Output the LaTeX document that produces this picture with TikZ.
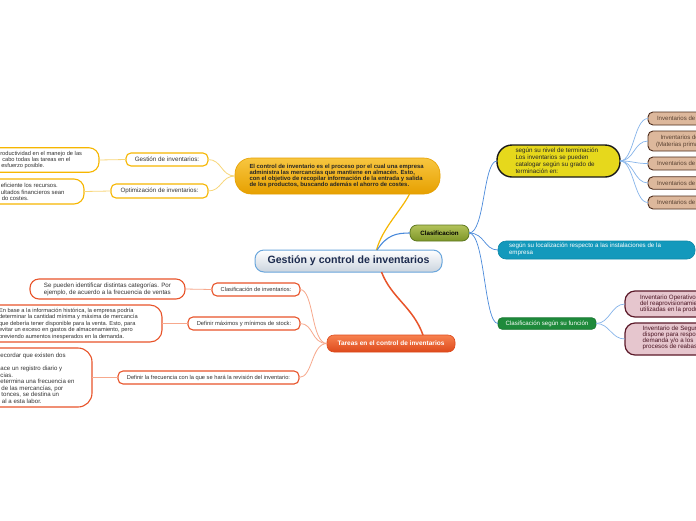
\documentclass[tikz,border=0pt]{standalone}
\usepackage{fontspec}
\setmainfont{Liberation Sans}
\definecolor{yelB}{HTML}{F6B600}
\definecolor{yelL}{HTML}{F8D77A}
\definecolor{yelTop}{HTML}{F8C640}
\definecolor{yelBot}{HTML}{E6A000}
\definecolor{oraB}{HTML}{E8542A}
\definecolor{oraL}{HTML}{F7A88C}
\definecolor{oraTop}{HTML}{F7814F}
\definecolor{oraBot}{HTML}{DE4A1C}
\definecolor{bluL}{HTML}{4A8ADB}
\definecolor{bluLL}{HTML}{86B4EA}
\definecolor{txtG}{HTML}{333333}
\definecolor{tanF}{HTML}{DDB89C}
\definecolor{tanB}{HTML}{4E2E1E}
\definecolor{tanT}{HTML}{5A4232}
\definecolor{pinkF}{HTML}{E6C6CE}
\definecolor{pinkB}{HTML}{5C1A2A}
\definecolor{pinkT}{HTML}{4A1422}
\definecolor{rootB}{HTML}{6AA6DC}
\definecolor{rootT}{HTML}{1C2B4E}
\definecolor{rootBot}{HTML}{CBD4DE}
\definecolor{olTop}{HTML}{B2C25A}
\definecolor{olBot}{HTML}{7E9628}
\definecolor{olB}{HTML}{5E7820}
\definecolor{nivF}{HTML}{E6D81C}
\definecolor{tealF}{HTML}{1399BC}
\definecolor{tealB}{HTML}{0F88A8}
\definecolor{grnF}{HTML}{1E8A3B}
\definecolor{grnB}{HTML}{17762F}
\begin{document}
\begin{tikzpicture}[x=1pt,y=-1pt,
  every node/.style={inner sep=0pt,outer sep=0pt},
  sm/.style={font=\fontsize{6.1}{6.4}\selectfont},
  lf/.style={font=\fontsize{5.7}{6.4}\selectfont},
  ltxt/.style={lf,text=txtG,align=left,anchor=west},
  ybox/.style={draw=yelB,line width=1.1pt,fill=white,text=txtG,sm},
  obox/.style={draw=oraB,line width=1.1pt,fill=white,text=txtG,sm},
  tanbox/.style={draw=tanB,line width=0.9pt,fill=tanF,rounded corners=5},
  pinkbox/.style={draw=pinkB,line width=1.2pt,fill=pinkF,rounded corners=10},
  ylink/.style={draw=yelL,line width=0.8pt},
  olink/.style={draw=oraL,line width=0.8pt},
  blink/.style={draw=bluL,line width=0.7pt},
  blinkl/.style={draw=bluLL,line width=0.7pt}]
\useasboundingbox (0,0) rectangle (696,520);
\fill[white] (0,0) rectangle (696,520);
\clip (0,0) rectangle (696,520);

% ---------- root ----------
\node[draw=rootB,line width=1pt,rounded corners=9,top color=white,bottom color=rootBot,
      minimum width=187,minimum height=22,text=rootT,font=\fontsize{10.6}{12}\selectfont\bfseries]
      (root) at (348.5,261) {Gestión y control de inventarios};

% ---------- yellow branch ----------
\node[rounded corners=16,top color=yelTop,bottom color=yelBot,draw=yelBot,line width=0.6pt,
      minimum width=205,minimum height=36] (ytop) at (337.5,176) {};
\node[anchor=west,align=left,font=\fontsize{5.9}{6}\selectfont\bfseries,text=black!85] (ytopT) at (249.5,175.8)
 {El control de inventario es el proceso por el cual una empresa\\
  administra las mercancías que mantiene en almacén. Esto,\\
  con el objetivo de recopilar información de la entrada y salida\\
  de los productos, buscando además el ahorro de costes.};

\node[ybox,rounded corners=5,minimum width=82,minimum height=13,font=\fontsize{6.3}{7}\selectfont] (g1) at (167,159.5) {Gestión de inventarios:};
\node[ybox,rounded corners=5,minimum width=97,minimum height=14,font=\fontsize{6.2}{7}\selectfont] (g2) at (159.5,191) {Optimización de inventarios:};
\node[ybox,rounded corners=10,minimum width=159,minimum height=24.5] (lg1) at (19.5,160) {};
\node[ltxt] (lg1t) at (0.3,160) {roductividad en el manejo de las\\\hspace{2pt}cabo todas las tareas en el\\\hspace{1pt}esfuerzo posible.};
\node[ybox,rounded corners=10,minimum width=144,minimum height=25] (lg2) at (12,191.5) {};
\node[ltxt,font=\fontsize{5.9}{6.5}\selectfont] (lg2t) at (0.8,192) {eficiente los recursos.\\ultados financieros sean\\\hspace{1pt}do costes.};

\draw[ylink] (ytop.west) .. controls +(-14,0) and +(14,0) .. (g1.east);
\draw[ylink] (ytop.west) .. controls +(-14,0) and +(14,0) .. (g2.east);
\draw[ylink] (g1.west) -- (lg1.east);
\draw[ylink] (g2.west) -- (lg2.east);

% ---------- classification branch ----------
\node[rounded corners=7,top color=olTop,bottom color=olBot,
      draw=olB,line width=0.8pt,minimum width=59,minimum height=16,
      font=\fontsize{6.2}{7}\selectfont\bfseries,text=black] (clasif) at (439.5,233) {Clasificacion};

\node[fill=nivF,draw=black!90,line width=1.4pt,rounded corners=15,
      minimum width=123,minimum height=32] (nivel) at (558.5,161) {};
\node[anchor=west,align=left,font=\fontsize{6.25}{7}\selectfont,text=black!85] (nivelT) at (515.5,160.5)
 {según su nivel de terminación\\Los inventarios se pueden\\catalogar según su grado de\\terminación en:};

\node[fill=tealF,draw=tealB,line width=0.6pt,rounded corners=8,
      minimum width=197,minimum height=18] (teal) at (596.5,250) {};
\node[anchor=west,align=left,font=\fontsize{6.2}{7}\selectfont,text=white] (tealT) at (509,249.5)
 {según su localización respecto a las instalaciones de la\\empresa};

\node[fill=grnF,draw=grnB,line width=0.6pt,rounded corners=4,
      minimum width=98,minimum height=11.5,font=\fontsize{6.15}{7}\selectfont,text=white] (green) at (547,323.5) {Clasificación según su función};

\node[tanbox,minimum width=112,minimum height=13] (tan1) at (704,118.5) {};
\node[tanbox,minimum width=112,minimum height=20] (tan2) at (704,141) {};
\node[tanbox,minimum width=112,minimum height=13] (tan3) at (704,163.5) {};
\node[tanbox,minimum width=112,minimum height=12.5] (tan4) at (704,183) {};
\node[tanbox,minimum width=112,minimum height=13] (tan5) at (704,202.5) {};
\node[ltxt,sm,text=tanT] (tan1t) at (657,118.8) {Inventarios de};
\node[ltxt,sm,text=tanT] (tan2t) at (656,141.3) {\hspace{4.5pt}Inventarios de\\(Materias primas};
\node[ltxt,sm,text=tanT] (tan3t) at (657,163.8) {Inventarios de};
\node[ltxt,sm,text=tanT] (tan4t) at (657,183.3) {Inventarios de};
\node[ltxt,sm,text=tanT] (tan5t) at (657,202.8) {Inventarios de};

\node[pinkbox,minimum width=135,minimum height=26] (pink1) at (692.5,304) {};
\node[pinkbox,minimum width=135,minimum height=32] (pink2) at (692.5,339) {};
\node[ltxt,font=\fontsize{6.2}{6}\selectfont,text=pinkT] (pink1t) at (640,304.3)
 {Inventario Operativo\\del reaprovisionamiento\\utilizadas en la producción};
\node[ltxt,font=\fontsize{6.2}{6}\selectfont,text=pinkT] (pink2t) at (642.7,338.2)
 {Inventario de Seguridad\\dispone para responder\\demanda y/o a los\\procesos de reabastecimiento};

\draw[blink] (clasif.east) .. controls +(16,0) and +(-14,0) .. (nivel.west);
\draw[blink] (clasif.east) .. controls +(16,0) and +(-14,0) .. (teal.west);
\draw[blink] (clasif.east) .. controls +(16,0) and +(-14,0) .. (green.west);
\foreach \t in {tan1,tan2,tan3,tan4,tan5}
  \draw[blinkl] (nivel.east) .. controls +(14,0) and +(-14,0) .. (\t.west);
\draw[blinkl] (green.east) .. controls +(14,0) and +(-14,0) .. (pink1.west);
\draw[blinkl] (green.east) .. controls +(14,0) and +(-14,0) .. (pink2.west);

% ---------- tasks branch ----------
\node[rounded corners=7,top color=oraTop,bottom color=oraBot,draw=oraBot,line width=0.6pt,
      minimum width=128,minimum height=17,font=\fontsize{6.5}{7}\selectfont\bfseries,text=white]
      (tareas) at (391,343.5) {Tareas en el control de inventarios};

\node[obox,rounded corners=5,minimum width=88,minimum height=13,font=\fontsize{5.7}{6.4}\selectfont] (o1) at (256,289.5) {Clasificación de inventarios:};
\node[obox,rounded corners=5,minimum width=112,minimum height=13,font=\fontsize{5.8}{6.4}\selectfont] (o2) at (244,323.5) {Definir máximos y mínimos de stock:};
\node[obox,rounded corners=5,minimum width=181,minimum height=13,font=\fontsize{5.7}{6.4}\selectfont] (o3) at (208.5,377.5)
  {Definir la frecuencia con la que se hará la revisión del inventario:};

\node[obox,rounded corners=9,minimum width=155,minimum height=20,align=left,font=\fontsize{6.2}{6.8}\selectfont] (la) at (107.5,289)
  {Se pueden identificar distintas categorías. Por\\ejemplo, de acuerdo a la frecuencia de ventas};
\node[obox,rounded corners=12,minimum width=222,minimum height=37] (lb) at (51,323.5) {};
\node[ltxt] (lbt) at (-1,323.8)
 {En base a la información histórica, la empresa podría\\
  determinar la cantidad mínima y máxima de mercancía\\
  que debería tener disponible para la venta. Esto, para\\
  evitar un exceso en gastos de almacenamiento, pero\\
  previendo aumentos inesperados en la demanda.};
\node[obox,rounded corners=14,minimum width=152,minimum height=59] (lc) at (16,377.5) {};
\node[ltxt,font=\fontsize{6.1}{6.5}\selectfont] (lct) at (0.5,378.2)
 {ecordar que existen dos\\[6.5pt]
  ace un registro diario y\\
  cias.\\
  etermina una frecuencia en\\
  \hspace{1pt}de las mercancías, por\\
  \hspace{1pt}tonces, se destina un\\
  \hspace{1.5pt}al a esta labor.};

\draw[olink] (tareas.west) .. controls +(-16,0) and +(14,0) .. (o1.east);
\draw[olink] (tareas.west) .. controls +(-16,0) and +(14,0) .. (o2.east);
\draw[olink] (tareas.west) .. controls +(-16,0) and +(14,0) .. (o3.east);
\draw[olink] (o1.west) -- (la.east);
\draw[olink] (o2.west) -- (lb.east);
\draw[olink] (o3.west) -- (lc.east);

% ---------- main connectors ----------
\draw[draw=yelB,line width=1.2pt] ([xshift=28pt]root.north) .. controls +(6,-22) and +(-8,16) .. ([xshift=72pt]ytop.south);
\draw[draw=bluL,line width=1.1pt] ([xshift=28.5pt]root.north) .. controls +(10,-15) and +(-14,0) .. (clasif.west);
\draw[draw=oraB,line width=1.5pt] ([xshift=33pt]root.south) .. controls +(10,26) and +(-10,-28) .. ([xshift=32pt]tareas.north);
\end{tikzpicture}
\end{document}
